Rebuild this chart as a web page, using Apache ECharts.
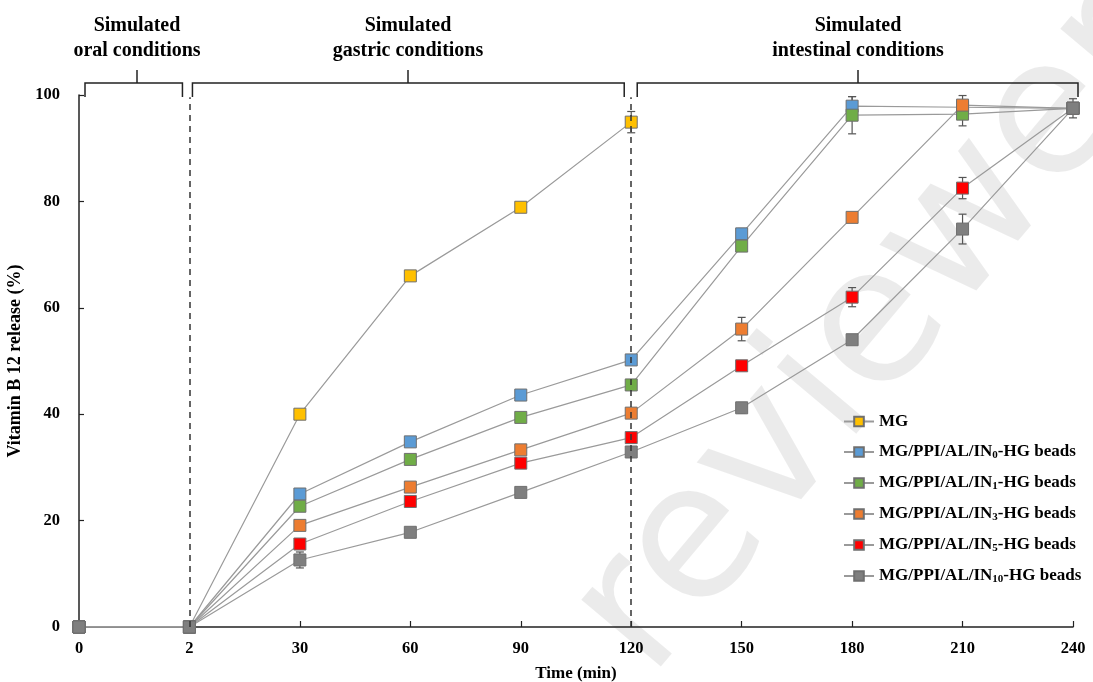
<!DOCTYPE html>
<html>
<head>
<meta charset="utf-8">
<script src="https://cdn.jsdelivr.net/npm/echarts@6/dist/echarts.min.js"></script>
<style>html,body{margin:0;padding:0;background:#fff;}#c{width:1093px;height:682px;}</style>
</head>
<body>
<div id="c"></div>
<script>
// ---- data ----
const categories = ['0','2','30','60','90','120','150','180','210','240'];
const seriesNames = ['MG','MG/PPI/AL/IN0-HG beads','MG/PPI/AL/IN1-HG beads','MG/PPI/AL/IN3-HG beads','MG/PPI/AL/IN5-HG beads','MG/PPI/AL/IN10-HG beads'];
const mgValues   = [0, 0, 40.0, 66.0, 78.9, 94.9, null, null, null, null];
const in0Values  = [0, 0, 25.0, 34.8, 43.6, 50.2, 73.9, 97.9, 97.7, 97.5];
const in1Values  = [0, 0, 22.7, 31.5, 39.4, 45.5, 71.6, 96.2, 96.4, 97.5];
const in3Values  = [0, 0, 19.1, 26.3, 33.3, 40.2, 56.0, 77.0, 98.1, 97.5];
const in5Values  = [0, 0, 15.6, 23.6, 30.8, 35.6, 49.1, 62.0, 82.5, 97.5];
const in10Values = [0, 0, 12.6, 17.8, 25.3, 32.9, 41.2, 54.0, 74.8, 97.5];
const mgErr   = [0, 0, 0.4, 0.4, 0.4, 2.0, null, null, null, null];
const in0Err  = [0, 0, 0.4, 0.4, 0.4, 0.5, 1.0, 1.8, 0.5, 0.5];
const in1Err  = [0, 0, 0.4, 0.4, 0.4, 0.5, 0.5, 3.5, 2.2, 0.5];
const in3Err  = [0, 0, 0.4, 0.4, 0.4, 0.5, 2.2, 0.5, 1.8, 0.5];
const in5Err  = [0, 0, 0.4, 0.4, 0.4, 0.5, 0.5, 1.8, 2.0, 0.5];
const in10Err = [0, 0, 1.5, 0.4, 0.4, 1.0, 1.0, 0.5, 2.8, 1.8];
const colors = ['#FFC000','#5B9BD5','#70AD47','#ED7D31','#FF0000','#7F7F7F'];
const yTicks = [0, 20, 40, 60, 80, 100];

const allValues = [mgValues, in0Values, in1Values, in3Values, in5Values, in10Values];
const allErr = [mgErr, in0Err, in1Err, in3Err, in5Err, in10Err];

const serif = '"Liberation Serif", "Times New Roman", serif';
const chart = echarts.init(document.getElementById('c'), null, {renderer: 'canvas'});

const series = [];
allValues.forEach((vals, k) => {
  series.push({
    type: 'custom',
    name: 'err' + k,
    z: 1,
    silent: true,
    data: vals.map((v, i) => v == null ? null : [i, v, allErr[k][i]]).filter(d => d),
    renderItem: function (params, api) {
      const i = api.value(0), v = api.value(1), e = api.value(2);
      if (!e) return null;
      const top = api.coord([i, v + e]);
      const bot = api.coord([i, v - e]);
      const w = 4;
      const st = {stroke: '#555', lineWidth: 1.2};
      return {type: 'group', children: [
        {type: 'line', shape: {x1: top[0], y1: top[1], x2: bot[0], y2: bot[1]}, style: st},
        {type: 'line', shape: {x1: top[0]-w, y1: top[1], x2: top[0]+w, y2: top[1]}, style: st},
        {type: 'line', shape: {x1: bot[0]-w, y1: bot[1], x2: bot[0]+w, y2: bot[1]}, style: st}
      ]};
    }
  });
});
allValues.forEach((vals, k) => {
  const s = {
    type: 'line',
    name: seriesNames[k],
    data: vals,
    z: 3,
    symbol: 'rect',
    symbolSize: 12,
    showAllSymbol: true,
    connectNulls: false,
    lineStyle: {color: '#9a9a9a', width: 1.2},
    itemStyle: {color: colors[k], borderColor: '#6f6f6f', borderWidth: 1},
    emphasis: {disabled: true}
  };
  if (k === 0) {
    s.markLine = {
      silent: true,
      symbol: ['none', 'none'],
      label: {show: false},
      lineStyle: {type: [6, 5], color: '#333', width: 1.5},
      data: [
        [{coord: [1, 0]}, {coord: [1, 99.6]}],
        [{coord: [5, 0]}, {coord: [5, 99.6]}]
      ]
    };
  }
  series.push(s);
});

function legendFmt(name) {
  const m = name.match(/^(.*IN)(\d+)(-HG beads)$/);
  if (!m) return '{t|' + name + '}';
  return '{t|' + m[1] + '}{s|' + m[2] + '}{t|' + m[3] + '}';
}

const option = {
  animation: false,
  backgroundColor: '#ffffff',
  grid: {left: 79, right: 20, top: 95, bottom: 55, outerBoundsMode: 'none', containLabel: false},
  legend: {
    orient: 'vertical',
    left: 838,
    top: 408,
    itemWidth: 30,
    itemHeight: 12,
    itemGap: 13,
    data: seriesNames,
    formatter: legendFmt,
    textStyle: {
      rich: {
        t: {fontFamily: serif, fontWeight: 'bold', fontSize: 17, color: '#000', lineHeight: 18},
        s: {fontFamily: serif, fontWeight: 'bold', fontSize: 11, color: '#000', lineHeight: 18, verticalAlign: 'bottom', padding: [7, 0, 0, 0]}
      }
    }
  },
  xAxis: {
    type: 'category',
    data: categories,
    boundaryGap: false,
    name: 'Time (min)',
    nameLocation: 'middle',
    nameGap: 38,
    nameTextStyle: {fontFamily: serif, fontWeight: 'bold', fontSize: 17, color: '#000'},
    axisLine: {lineStyle: {color: '#222', width: 1.5}},
    axisTick: {inside: true, length: 6, lineStyle: {color: '#222', width: 1.2}},
    axisLabel: {fontFamily: serif, fontWeight: 'bold', fontSize: 16.5, color: '#000', margin: 13},
    splitLine: {show: false}
  },
  yAxis: {
    type: 'value',
    min: 0, max: 100, interval: 20,
    name: 'Vitamin B 12 release (%)',
    nameLocation: 'middle',
    nameGap: 50,
    nameTextStyle: {fontFamily: serif, fontWeight: 'bold', fontSize: 18, color: '#000'},
    axisLine: {show: true, lineStyle: {color: '#222', width: 1.5}},
    axisTick: {show: true, inside: true, length: 5, lineStyle: {color: '#222', width: 1.2}},
    axisLabel: {fontFamily: serif, fontWeight: 'bold', fontSize: 16.5, color: '#000', margin: 19,
      formatter: v => yTicks.indexOf(v) >= 0 ? String(v) : ''},
    splitLine: {show: false}
  },
  series: series
};
chart.setOption(option);

// annotation brackets positioned from axis scale
const px = idx => chart.convertToPixel({xAxisIndex: 0}, idx);
const xs = categories.map((c, i) => px(i));
const yTop = 83, yLeg = 97, yTick = 70;
const brackets = [
  {l: xs[0] + 6, r: xs[1] - 7, c: 137, text: 'Simulated\noral conditions'},
  {l: xs[1] + 3, r: xs[5] - 7, c: 408, text: 'Simulated\ngastric conditions'},
  {l: xs[5] + 6, r: xs[9] + 5, c: 858, text: 'Simulated\nintestinal conditions'}
];
const graphics = [{
  type: 'text', z: -10, silent: true,
  x: 612, y: 648, rotation: 50 * Math.PI / 180,
  style: {text: 'reviewer', font: '190px "DejaVu Sans", sans-serif', fill: 'rgba(0,0,0,0.08)', align: 'left', verticalAlign: 'middle'}
}];
brackets.forEach(b => {
  graphics.push({type: 'polyline', silent: true, shape: {points: [[b.l, yLeg], [b.l, yTop], [b.r, yTop], [b.r, yLeg]]}, style: {stroke: '#222', lineWidth: 1.5, fill: null}});
  graphics.push({type: 'line', silent: true, shape: {x1: b.c, y1: yTop, x2: b.c, y2: yTick}, style: {stroke: '#222', lineWidth: 1.5}});
  graphics.push({type: 'text', silent: true, x: b.c, y: 13,
    style: {text: b.text, font: 'bold 20px ' + serif, fill: '#000', align: 'center', verticalAlign: 'top', lineHeight: 25}});
});
chart.setOption({graphic: graphics});
</script>
</body>
</html>
